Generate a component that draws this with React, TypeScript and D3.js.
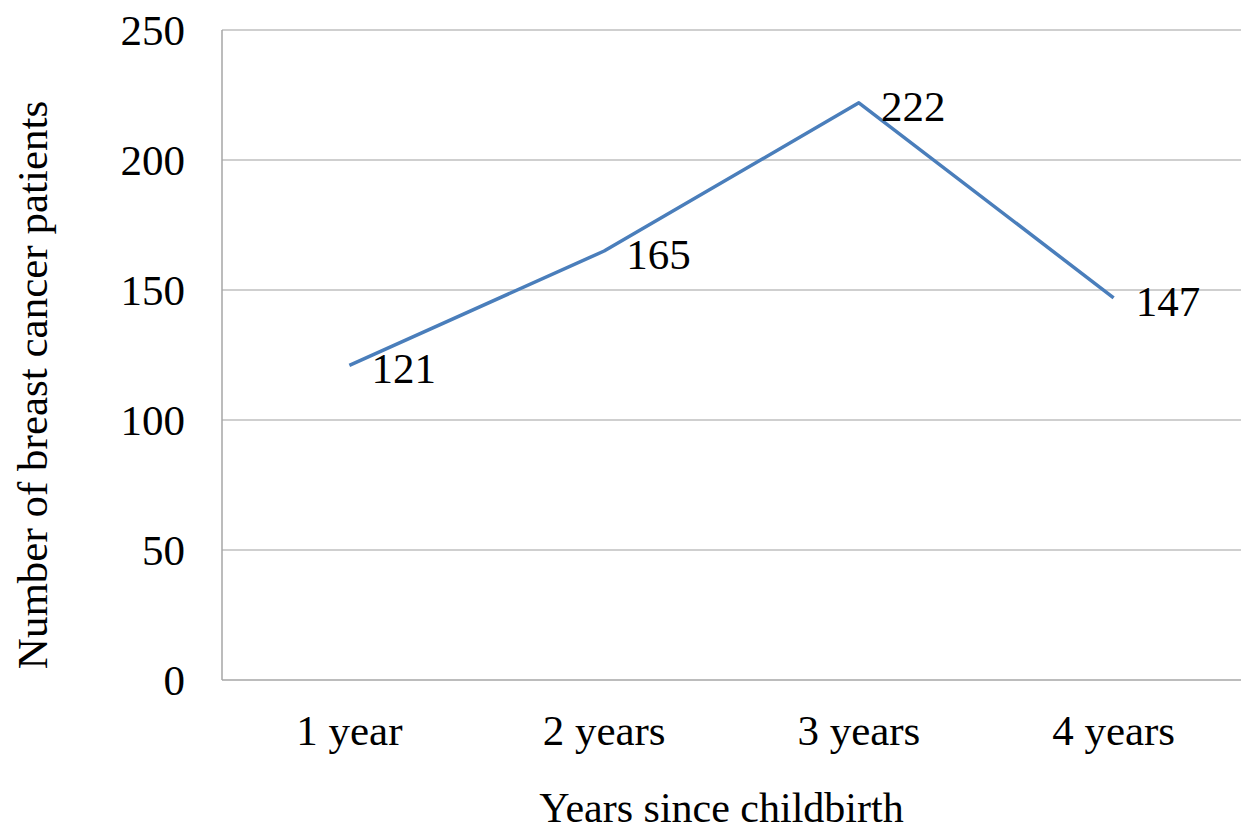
import * as d3 from 'd3';

const categories = ['1 year', '2 years', '3 years', '4 years'];
const patients = [121, 165, 222, 147];
const yTicks = [0, 50, 100, 150, 200, 250];

const width = 1246;
const height = 831;
const marginLeft = 222;
const marginRight = 5;
const marginTop = 30;
const marginBottom = 151;
const font = '"Liberation Serif", "Times New Roman", serif';
const fontSize = 43;

export default function App() {
    const x = d3.scaleBand<string>()
        .domain(categories)
        .range([marginLeft, width - marginRight]);

    const y = d3.scaleLinear()
        .domain([0, 250])
        .range([height - marginBottom, marginTop]);

    const cx = (c: string) => (x(c) ?? 0) + x.bandwidth() / 2;

    const line = d3.line<number>()
        .x((_, i) => cx(categories[i]))
        .y((d) => y(d));

    return (
        <svg width={width} height={height} style={{ position: 'absolute', left: 0, top: 0, background: '#fff' }}>
            {/* gridlines */}
            {yTicks.map((t) => (
                <line key={t} x1={marginLeft} x2={width - marginRight} y1={y(t)} y2={y(t)}
                    stroke={t === 0 ? '#a6a6a6' : '#bfbfbf'} strokeWidth={1.5} />
            ))}
            <line x1={marginLeft} x2={marginLeft} y1={marginTop} y2={y(0)} stroke="#a6a6a6" strokeWidth={1.5} />

            {/* y tick labels */}
            {yTicks.map((t) => (
                <text key={t} x={185} y={y(t)} dy="0.35em" textAnchor="end"
                    fontFamily={font} fontSize={fontSize} fill="#000">{t}</text>
            ))}

            {/* x tick labels */}
            {categories.map((c) => (
                <text key={c} x={cx(c)} y={745} textAnchor="middle"
                    fontFamily={font} fontSize={fontSize} fill="#000">{c}</text>
            ))}

            <path d={line(patients) || ''} fill="none" stroke="#4a7ebb" strokeWidth={3.5} strokeLinejoin="round" />

            {/* data labels */}
            {patients.map((v, i) => (
                <text key={i} x={cx(categories[i]) + 22} y={y(v) + 3} dy="0.35em"
                    fontFamily={font} fontSize={fontSize} fill="#000">{v}</text>
            ))}

            {/* axis titles */}
            <text x={(marginLeft + width - marginRight) / 2 - 10} y={822} textAnchor="middle"
                fontFamily={font} fontSize={42} fill="#000">Years since childbirth</text>
            <text transform={`translate(47, ${(marginTop + y(0)) / 2 + 30}) rotate(-90)`} textAnchor="middle"
                fontFamily={font} fontSize={fontSize} fill="#000">Number of breast cancer patients</text>
        </svg>
    );
}
